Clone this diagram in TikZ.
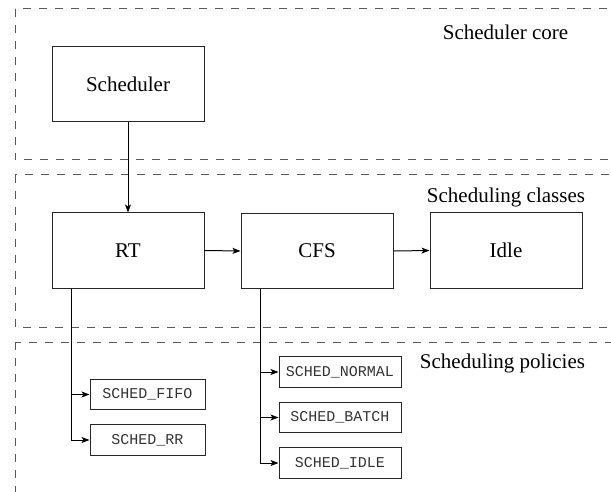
\documentclass[tikz,border=0pt]{standalone}
\usepackage{fontspec}
\setmainfont{Liberation Serif}
\newfontfamily\codefont{Liberation Mono}
\usetikzlibrary{arrows.meta}

\tikzset{
  layer/.style={draw=black!65, line width=0.5pt, dash pattern=on 4pt off 4pt},
  classbox/.style={draw=black!85, line width=0.5pt, minimum width=76pt, minimum height=37.5pt,
    inner sep=0pt, font=\fontsize{10.5}{12}\selectfont},
  policybox/.style={draw=black!85, line width=0.5pt, minimum height=15.3pt, inner sep=0pt,
    font=\codefont\fontsize{7.5}{9}\selectfont, text=black!80},
  layertitle/.style={font=\fontsize{10.5}{12}\selectfont, inner sep=0pt},
  link/.style={draw=black, line width=0.5pt, -{Stealth[length=4pt,width=3pt,inset=1pt]}},
}

\begin{document}
\begin{tikzpicture}[x=0.5pt, y=-0.5pt]
  \clip (0,0) rectangle (611,492);

  % layer frames (open to the right and below)
  \draw[layer] (15,9) rectangle (640,160);
  \draw[layer] (15,175) rectangle (640,327);
  \draw[layer] (15,342) rectangle (640,520);

  % layer titles
  \node[layertitle] (tcore) at (505.5,32) {Scheduler core};
  \node[layertitle] (tclass) at (506,197) {Scheduling classes};
  \node[layertitle] (tpol) at (502.5,363) {Scheduling policies};

  % scheduler core and classes
  \node[classbox] (sched) at (128,84.5) {Scheduler};
  \node[classbox] (rt) at (128,250.5) {RT};
  \node[classbox] (cfs) at (317,251) {CFS};
  \node[classbox] (idle) at (506,250.5) {Idle};

  % policies
  \node[policybox, minimum width=57.5pt] (fifo) at (147.5,394.5) {SCHED\_FIFO};
  \node[policybox, minimum width=57.5pt] (rr) at (147.5,440) {SCHED\_RR};
  \node[policybox, minimum width=61pt] (normal) at (340,372) {SCHED\_NORMAL};
  \node[policybox, minimum width=61pt] (batch) at (340,417.5) {SCHED\_BATCH};
  \node[policybox, minimum width=61pt] (sidle) at (340,463) {SCHED\_IDLE};

  % connectors
  \draw[link] (sched.south) -- (rt.north);
  \draw[link] (rt.east) -- (cfs.west);
  \draw[link] (cfs.east) -- (idle.west);

  \draw[link] ([xshift=10pt]rt.south west) |- (fifo.west);
  \draw[link] ([xshift=10pt]rt.south west) |- (rr.west);
  \draw[link] ([xshift=10pt]cfs.south west) |- (normal.west);
  \draw[link] ([xshift=10pt]cfs.south west) |- (batch.west);
  \draw[link] ([xshift=10pt]cfs.south west) |- (sidle.west);
\end{tikzpicture}
\end{document}
